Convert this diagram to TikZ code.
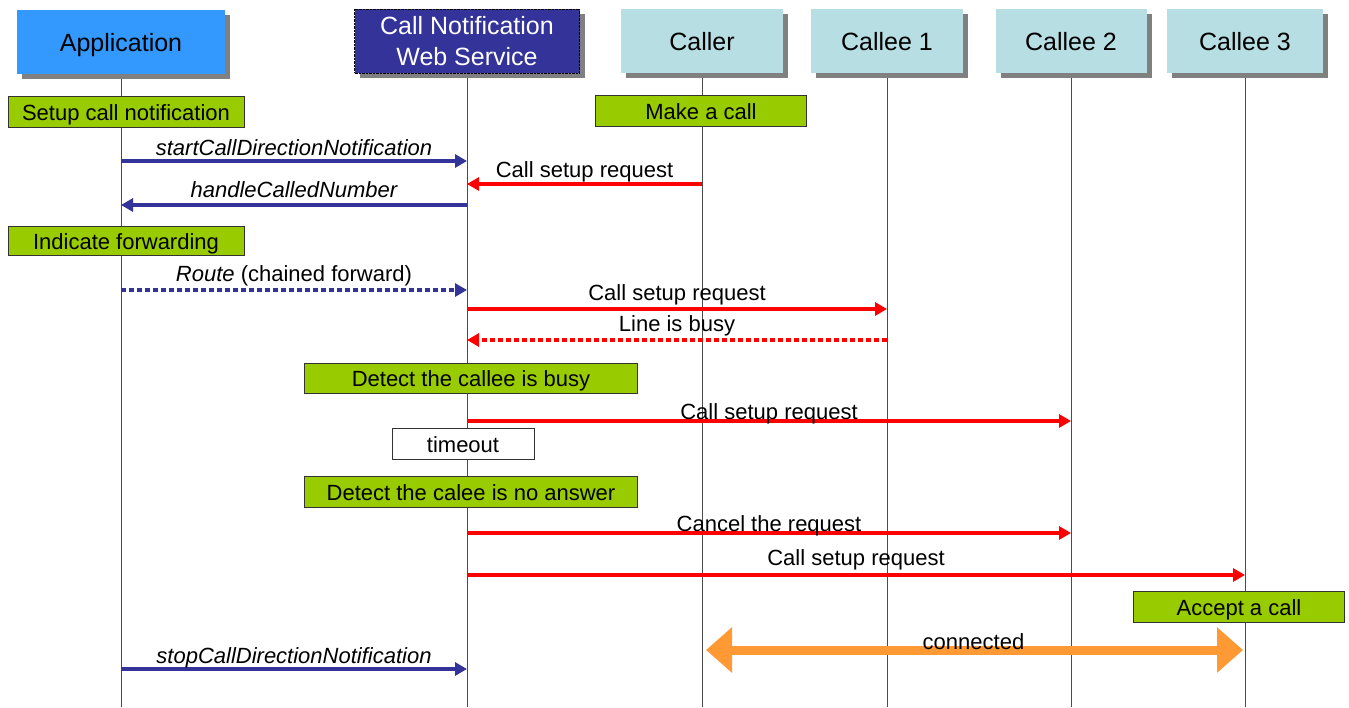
\documentclass[tikz,border=0pt]{standalone}
\usepackage{fontspec}
\setmainfont{Liberation Sans}
\usetikzlibrary{arrows.meta,shadows}
\definecolor{appblue}{RGB}{51,153,255}
\definecolor{svcblue}{RGB}{51,51,153}
\definecolor{peer}{RGB}{183,222,227}
\definecolor{notegreen}{RGB}{153,204,0}
\definecolor{linkorange}{RGB}{255,153,51}
\tikzset{
  head/.style={minimum height=64pt, inner sep=0pt, align=center,
    font=\fontsize{25}{31}\selectfont,
    drop shadow={shadow xshift=5pt, shadow yshift=-5pt, fill=gray, opacity=1}},
  solo/.style={text height=18pt, text depth=0pt},
  note/.style={draw=black!80, fill=notegreen, minimum height=31pt, inner sep=0pt,
    text height=16pt, text depth=0pt, font=\fontsize{22}{26}\selectfont},
  msg/.style={line width=4pt, -{Triangle[length=12pt,width=13pt]}},
  lbl/.style={midway, anchor=base, yshift=#1, text=black, font=\fontsize{22}{26}\selectfont},
  lbl/.default=7pt
}
\begin{document}
\begin{tikzpicture}[x=1pt, y=-1pt]
\useasboundingbox (0,0) rectangle (1349,707);
% participants
\node[head, solo, fill=appblue, minimum width=208pt] (app) at (121,42) {Application};
\node[head, fill=svcblue, text=white, draw=black, densely dotted, minimum width=225pt] (cnws) at (467,41) {Call Notification\\Web Service};
\node[head, solo, fill=peer, minimum width=162pt] (caller) at (702,41) {Caller};
\node[head, solo, fill=peer, minimum width=152pt] (ca) at (887,41) {Callee 1};
\node[head, solo, fill=peer, minimum width=151pt] (cb) at (1071,41) {Callee 2};
\node[head, solo, fill=peer, minimum width=156pt] (cc) at (1245,41) {Callee 3};
\foreach \p in {app,cnws,caller,ca,cb,cc}
{
    \draw[black!70, line width=0.8pt]([yshift=-5pt]\p.south)--(\p |- 0,707);
}
% notes
\node[note, minimum width=236pt] (setup) at (126,112) {Setup call notification};
\node[note, minimum width=211pt] (make) at (701,111) {Make a call};
\node[note, minimum width=236pt, minimum height=29pt] (fwd) at (126,241) {Indicate forwarding};
\node[note, minimum width=333pt, minimum height=30pt] (busy) at (471,378) {Detect the callee is busy};
\node[note, fill=white, minimum width=142pt] (tmo) at (463,444) {timeout};
\node[note, minimum width=333pt] (noans) at (471,492) {Detect the calee is no answer};
\node[note, minimum width=211pt] (accept) at (1239,607) {Accept a call};
% messages
\draw[msg, svcblue](app |- 0,161)--node[lbl=6pt]{\itshape startCallDirectionNotification}(cnws |- 0,161);
\draw[msg, red](caller |- 0,184)--node[lbl]{Call setup request}(cnws |- 0,184);
\draw[msg, svcblue](cnws |- 0,205)--node[lbl=8pt]{\itshape handleCalledNumber}(app |- 0,205);
\draw[msg, svcblue, dash pattern=on 5pt off 3pt](app |- 0,290)--node[lbl=9pt]{\textit{Route} (chained forward)}(cnws |- 0,290);
\draw[msg, red](cnws |- 0,309)--node[lbl=9pt]{Call setup request}(ca |- 0,309);
\draw[msg, red, dash pattern=on 5pt off 3pt](ca |- 0,340)--node[lbl=9pt]{Line is busy}(cnws |- 0,340);
\draw[msg, red](cnws |- 0,421)--node[lbl=2pt]{Call setup request}(cb |- 0,421);
\draw[msg, red](cnws |- 0,533)--node[lbl=2pt]{Cancel the request}(cb |- 0,533);
\draw[msg, red](cnws |- 0,575)--node[lbl=10pt]{Call setup request}(cc |- 0,575);
\draw[linkorange, line width=9pt, shorten <=4pt, shorten >=2pt,
    {Triangle[length=26pt,width=44pt]}-{Triangle[length=26pt,width=44pt]}]
    (caller |- 0,650)--node[lbl=1pt]{connected}(cc |- 0,650);
\draw[msg, svcblue](app |- 0,669)--node[lbl=6pt]{\itshape stopCallDirectionNotification}(cnws |- 0,669);
\end{tikzpicture}
\end{document}
